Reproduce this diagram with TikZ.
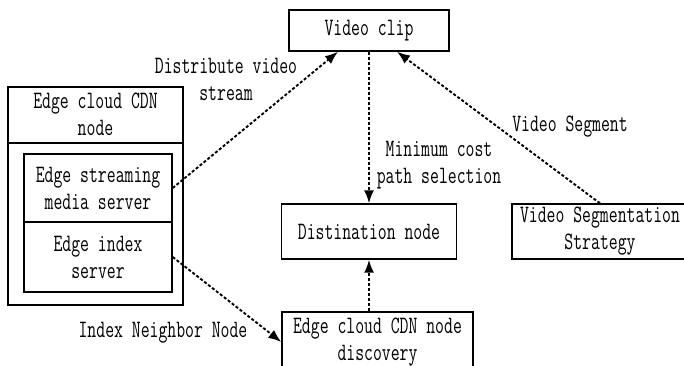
\documentclass[tikz,border=0pt]{standalone}
\usepackage{fontspec}
\newfontfamily\figfont[FakeStretch=0.69]{Latin Modern Mono}
\usetikzlibrary{calc,arrows.meta}

\begin{document}
\begin{tikzpicture}[x=1pt,y=-1pt,
    box/.style={draw,line width=1.4pt,inner sep=0pt,align=center},
    flow/.style={line width=1.9pt,dash pattern=on 3pt off 2pt,-{Latex[length=13pt,width=10pt]}},
    lbl/.style={inner sep=0pt,align=center},
    font=\figfont\fontsize{25}{27}\selectfont]
  \useasboundingbox (0,0) rectangle (684,365);

  % boxes
  \node[box,minimum width=160pt,minimum height=41pt] (clip) at (369,30.5) {Video clip};
  \node[box,minimum width=175pt,minimum height=55pt] (dest) at (369,231.5) {Distination node};
  \node[box,minimum width=176pt,minimum height=55pt] (seg) at (600,231.5) {Video Segmentation\\Strategy};
  \node[box,minimum width=191pt,minimum height=60pt] (disc) at (377.5,342) {Edge cloud CDN node\\discovery};

  % edge cloud CDN node
  \node[draw,line width=2.2pt,minimum width=175pt,minimum height=218pt] (cdn) at (95.5,196) {};
  \draw[line width=1.4pt] (cdn.west |- 0,143) -- (cdn.east |- 0,143);
  \node[lbl] (cdnname) at (95.5,114) {Edge cloud CDN\\node};
  \node[box,minimum width=148pt,minimum height=68pt] (stream) at (98,188) {Edge streaming\\media server};
  \node[box,minimum width=148pt,minimum height=70pt] (index) at (98,257) {Edge index\\server};

  % labels
  \node[lbl] (distlbl) at (226,79) {Distribute video\\stream};
  \node[lbl] (costlbl) at (439,165) {Minimum cost\\path selection};
  \node[lbl] (seglbl) at (570,127) {Video Segment};
  \node[lbl] (neighlbl) at (163,333) {Index Neighbor Node};

  % connectors
  \draw[flow] (stream.east) -- ([xshift=-31pt]clip.south);
  \draw[flow] (clip.south) -- (dest.north);
  \draw[flow] (seg.north) -- ([xshift=28pt]clip.south);
  \draw[flow] (index.east) -- (disc.west);
  \draw[flow] (disc.north -| dest.south) -- (dest.south);
\end{tikzpicture}
\end{document}
